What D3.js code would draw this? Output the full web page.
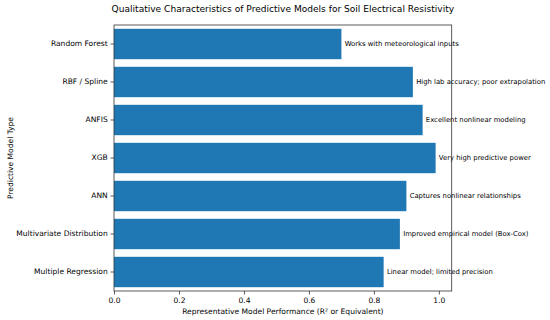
<!DOCTYPE html>
<html>
<head>
<meta charset="utf-8">
<script src="https://cdn.jsdelivr.net/npm/d3@7"></script>
<style>
  body { margin: 0; background: #fff; }
  text { font-family: "DejaVu Sans", sans-serif; fill: #000; }
</style>
</head>
<body>
<div id="chart"></div>
<script>
// model types, top to bottom as drawn
const models = ["Random Forest", "RBF / Spline", "ANFIS", "XGB", "ANN",
                "Multivariate Distribution", "Multiple Regression"];
const performance = [0.70, 0.92, 0.95, 0.99, 0.90, 0.88, 0.83];
const notes = ["Works with meteorological inputs", "High lab accuracy; poor extrapolation",
               "Excellent nonlinear modeling", "Very high predictive power",
               "Captures nonlinear relationships", "Improved empirical model (Box-Cox)",
               "Linear model; limited precision"];
const xTicks = [0.0, 0.2, 0.4, 0.6, 0.8, 1.0];

const width = 550, height = 320;
const margin = {top: 25, right: 98.3, bottom: 29, left: 114};

const svg = d3.select("#chart").append("svg")
    .attr("width", width)
    .attr("height", height);

const x = d3.scaleLinear()
    .domain([0, d3.max(performance) * 1.05])
    .range([margin.left, width - margin.right]);

// band layout like matplotlib: ylim -0.6 .. n-0.4, bar height 0.8
const y = d3.scaleBand()
    .domain(models)
    .range([margin.top, height - margin.bottom])
    .paddingInner(0.2)
    .paddingOuter(0.1);

// bars
svg.selectAll("rect.bar")
   .data(models)
   .enter().append("rect")
   .attr("class", "bar")
   .attr("x", x(0))
   .attr("y", d => y(d))
   .attr("width", (d, i) => x(performance[i]) - x(0))
   .attr("height", y.bandwidth())
   .attr("fill", "#1f77b4");

// annotations next to bars
svg.selectAll("text.note")
   .data(models)
   .enter().append("text")
   .attr("class", "note")
   .attr("x", (d, i) => x(performance[i] + 0.01))
   .attr("y", d => y(d) + y.bandwidth() / 2)
   .attr("dy", "0.35em")
   .style("font-size", "6.85px")
   .text((d, i) => notes[i]);

// axes
const xAxis = d3.axisBottom(x)
    .tickValues(xTicks)
    .tickFormat(d3.format(".1f"))
    .tickSize(3.5)
    .tickPadding(3.5);

svg.append("g")
   .attr("transform", `translate(0,${height - margin.bottom})`)
   .call(xAxis)
   .call(g => g.select(".domain").remove())
   .call(g => g.selectAll("text").style("font-size", "7.56px").attr("font-family", null));

const yAxis = d3.axisLeft(y)
    .tickSize(3.5)
    .tickPadding(2.8);

svg.append("g")
   .attr("transform", `translate(${margin.left},0)`)
   .call(yAxis)
   .call(g => g.select(".domain").remove())
   .call(g => g.selectAll("text").style("font-size", "7.56px").attr("font-family", null));

svg.selectAll(".tick line").attr("stroke", "#333").attr("stroke-width", 0.8);

// frame (spines)
svg.append("rect")
   .attr("x", margin.left)
   .attr("y", margin.top)
   .attr("width", width - margin.left - margin.right)
   .attr("height", height - margin.top - margin.bottom)
   .attr("fill", "none")
   .attr("stroke", "#333")
   .attr("stroke-width", 0.8);

// title
svg.append("text")
   .attr("x", (margin.left + width - margin.right) / 2)
   .attr("y", 11.5)
   .attr("text-anchor", "middle")
   .style("font-size", "9.07px")
   .text("Qualitative Characteristics of Predictive Models for Soil Electrical Resistivity");

// axis labels
svg.append("text")
   .attr("x", (margin.left + width - margin.right) / 2)
   .attr("y", 313.5)
   .attr("text-anchor", "middle")
   .style("font-size", "7.56px")
   .text("Representative Model Performance (R² or Equivalent)");

svg.append("text")
   .attr("transform", `translate(12.5,${(margin.top + height - margin.bottom) / 2}) rotate(-90)`)
   .attr("text-anchor", "middle")
   .style("font-size", "7.56px")
   .text("Predictive Model Type");
</script>
</body>
</html>
